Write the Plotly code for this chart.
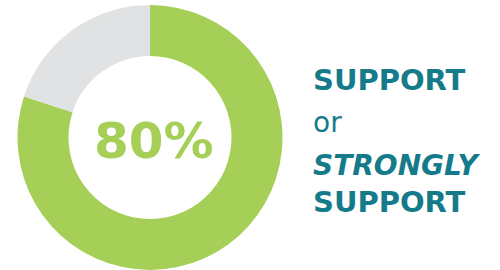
import plotly.graph_objects as go

labels = ["Support or strongly support", "Other"]
values = [80, 20]
colors = ["#a6cf57", "#e1e2e3"]
center_label = "80%"
side_lines = ["<b>SUPPORT</b>", "or", "<b><i>STRONGLY</i></b>", "<b>SUPPORT</b>"]

W, H = 500, 270
TEAL = "#157b8b"

fig = go.Figure(go.Pie(
    labels=labels, values=values, marker=dict(colors=colors, line=dict(width=0)),
    hole=0.615, sort=False, direction="clockwise", rotation=0,
    textinfo="none", hoverinfo="label+percent", showlegend=False,
    domain=dict(x=[17 / W, 283 / W], y=[0, 1 - 5 / H]),
))

fig.add_annotation(text=f"<b>{center_label}</b>", x=154 / W, y=1 - 141 / H,
                   xref="paper", yref="paper", showarrow=False,
                   xanchor="center", yanchor="middle",
                   font=dict(family="DejaVu Sans", size=50, color=colors[0]))

line_y = [80, 122, 165, 202]
sizes = [29, 28, 28, 29]
for t, yy, s in zip(side_lines, line_y, sizes):
    fig.add_annotation(text=t, x=311 / W, y=1 - yy / H, xref="paper", yref="paper",
                       showarrow=False, xanchor="left", yanchor="middle",
                       font=dict(family="DejaVu Sans", size=s, color=TEAL))

fig.update_layout(width=W, height=H, margin=dict(l=0, r=0, t=0, b=0),
                  paper_bgcolor="white", plot_bgcolor="white")

fig.write_html("out.html", config={"displayModeBar": False},
               post_script="document.body.style.margin='0';document.body.style.overflow='hidden';")
